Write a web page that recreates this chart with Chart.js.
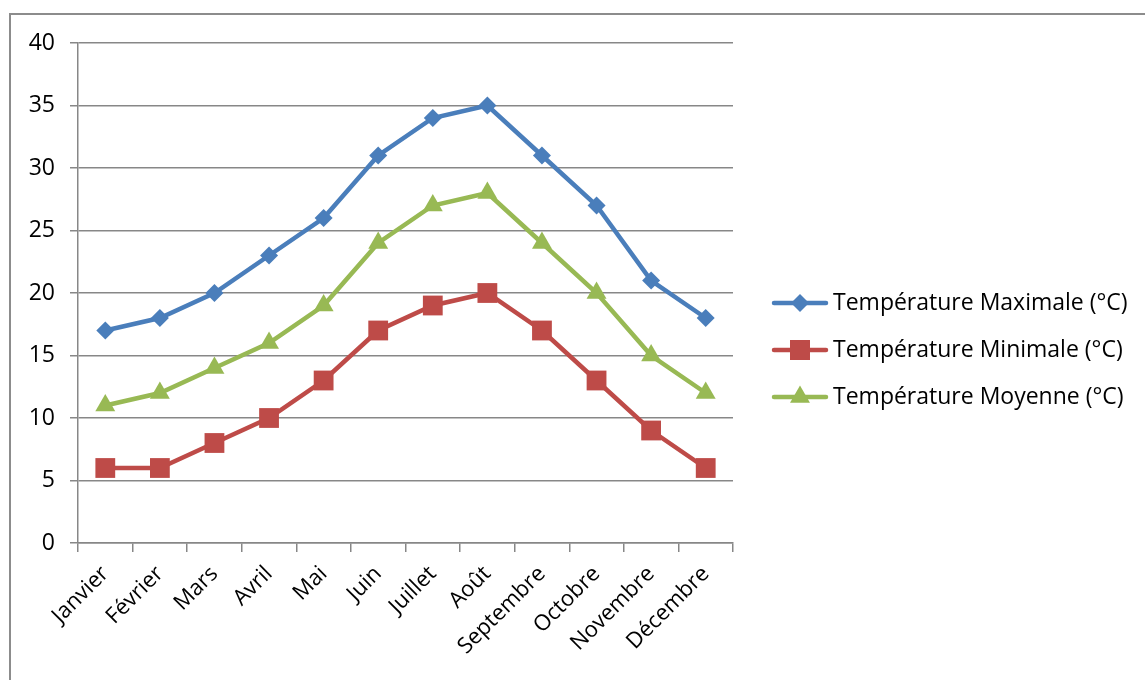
<!DOCTYPE html>
<html>
<head>
<meta charset="utf-8">
<script src="https://cdn.jsdelivr.net/npm/chart.js@4/dist/chart.umd.min.js"></script>
<style>
  html, body { margin: 0; padding: 0; background: #fff; }
  #c { display: block; }
</style>
</head>
<body>
<canvas id="c" width="1145" height="680"></canvas>
<script>
// --- données ---
const mois = ['Janvier', 'Février', 'Mars', 'Avril', 'Mai', 'Juin', 'Juillet', 'Août', 'Septembre', 'Octobre', 'Novembre', 'Décembre'];
const tempMax = [17, 18, 20, 23, 26, 31, 34, 35, 31, 27, 21, 18];
const tempMin = [6, 6, 8, 10, 13, 17, 19, 20, 17, 13, 9, 6];
const tempMoy = [11, 12, 14, 16, 19, 24, 27, 28, 24, 20, 15, 12];
const nomsSeries = ['Température Maximale (°C)', 'Température Minimale (°C)', 'Température Moyenne (°C)'];

const FONT = '"Open Sans", "DejaVu Sans", sans-serif';
const GRIS = '#878787';
const couleurs = ['#4a7ebb', '#be4b48', '#98b954'];
const formes = ['rectRot', 'rect', 'triangle'];
const tailles = [9, 14, 11.5];

// --- cadre extérieur ---
const cadre = {
    id: 'cadre',
    beforeDraw(chart) {
        const ctx = chart.ctx;
        ctx.save();
        ctx.strokeStyle = '#8c8c8c';
        ctx.lineWidth = 2;
        ctx.strokeRect(10, 14, 2000, 2000);
        ctx.restore();
    }
};

// --- légende à droite (ligne + marqueur) ---
const legende = {
    id: 'legende',
    afterDraw(chart) {
        const ctx = chart.ctx;
        ctx.save();
        chart.data.datasets.forEach((ds, i) => {
            const y = 303 + i * 47;
            ctx.strokeStyle = ds.borderColor;
            ctx.lineWidth = 4.5;
            ctx.lineCap = 'round';
            ctx.beginPath();
            ctx.moveTo(774, y);
            ctx.lineTo(826, y);
            ctx.stroke();
            // marqueur
            ctx.fillStyle = ds.backgroundColor;
            ctx.beginPath();
            const x = 800;
            if (ds.pointStyle === 'rectRot') {
                const r = 9;
                ctx.moveTo(x, y - r); ctx.lineTo(x + r, y); ctx.lineTo(x, y + r); ctx.lineTo(x - r, y);
            } else if (ds.pointStyle === 'rect') {
                const s = 10;
                ctx.rect(x - s, y - s, 2 * s, 2 * s);
            } else {
                const r = 11.5;
                ctx.moveTo(x, y - r);
                ctx.lineTo(x + r * 0.866, y + r / 2);
                ctx.lineTo(x - r * 0.866, y + r / 2);
            }
            ctx.closePath();
            ctx.fill();
            ctx.fillStyle = '#000';
            ctx.font = '23px ' + FONT;
            ctx.textBaseline = 'middle';
            ctx.textAlign = 'left';
            ctx.fillText(ds.label, 833, y);
        });
        ctx.restore();
    }
};

const valeurs = [tempMax, tempMin, tempMoy];

new Chart(document.getElementById('c'), {
    type: 'line',
    data: {
        labels: mois,
        datasets: valeurs.map((v, i) => ({
            label: nomsSeries[i],
            data: v,
            borderColor: couleurs[i],
            backgroundColor: couleurs[i],
            borderWidth: 4.5,
            pointStyle: formes[i],
            pointRadius: tailles[i],
            pointBorderWidth: 0,
            pointBackgroundColor: couleurs[i],
            tension: 0
        }))
    },
    options: {
        responsive: false,
        animation: false,
        layout: { padding: { left: 0, top: 43, right: 412, bottom: 0 } },
        plugins: {
            legend: { display: false },
            tooltip: { enabled: false }
        },
        scales: {
            x: {
                offset: true,
                grid: { offset: true, drawOnChartArea: false, drawTicks: true, tickLength: 9, color: GRIS, lineWidth: 1.5 },
                border: { display: true, color: GRIS, width: 1.5 },
                ticks: {
                    color: '#000',
                    font: { family: FONT, size: 22 },
                    minRotation: 45,
                    maxRotation: 45,
                    padding: 9,
                    autoSkip: false
                },
                afterFit(s) { s.height = 137; }
            },
            y: {
                min: 0,
                max: 40,
                ticks: {
                    stepSize: 5,
                    color: '#000',
                    font: { family: FONT, size: 23 },
                    padding: 15
                },
                grid: { color: GRIS, lineWidth: 1.5, tickLength: 8, drawTicks: true },
                border: { display: true, color: GRIS, width: 1.5 },
                afterFit(s) { s.width = 78; }
            }
        }
    },
    plugins: [cadre, legende]
});
</script>
</body>
</html>
